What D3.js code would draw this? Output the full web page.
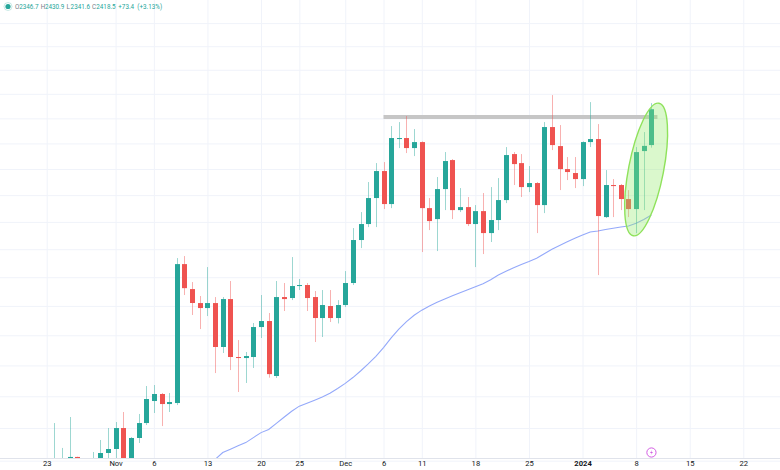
<!DOCTYPE html>
<html><head><meta charset="utf-8">
<script src="https://cdn.jsdelivr.net/npm/d3@7"></script>
<style>
html,body{margin:0;padding:0;background:#fff;overflow:hidden;}
svg{display:block;font-family:Roboto,"Liberation Sans",Arial,sans-serif;}
</style></head><body>
<svg id="chart" width="780" height="470"></svg>
<script>
// ---------- DATA ----------
const dates = [
"2023-10-23","2023-10-24","2023-10-25","2023-10-26","2023-10-27","2023-10-28","2023-10-29","2023-10-30","2023-10-31",
"2023-11-01","2023-11-02","2023-11-03","2023-11-04","2023-11-05","2023-11-06","2023-11-07","2023-11-08","2023-11-09","2023-11-10",
"2023-11-11","2023-11-12","2023-11-13","2023-11-14","2023-11-15","2023-11-16","2023-11-17","2023-11-18","2023-11-19","2023-11-20",
"2023-11-21","2023-11-22","2023-11-23","2023-11-24","2023-11-25","2023-11-26","2023-11-27","2023-11-28","2023-11-29","2023-11-30",
"2023-12-01","2023-12-02","2023-12-03","2023-12-04","2023-12-05","2023-12-06","2023-12-07","2023-12-08","2023-12-09","2023-12-10",
"2023-12-11","2023-12-12","2023-12-13","2023-12-14","2023-12-15","2023-12-16","2023-12-17","2023-12-18","2023-12-19","2023-12-20",
"2023-12-21","2023-12-22","2023-12-23","2023-12-24","2023-12-25","2023-12-26","2023-12-27","2023-12-28","2023-12-29","2023-12-30",
"2023-12-31","2024-01-01","2024-01-02","2024-01-03","2024-01-04","2024-01-05","2024-01-06","2024-01-07","2024-01-08","2024-01-09",
"2024-01-10"];
const open = [
1663,1785,1787,1797,1805.6,1780,1776,1797,1811.6,
1817.7,1850.0,1797,1834.6,1857.8,1892.5,1903.7,1887.7,1889.3,2123.3,
2079.2,2054.9,2046.3,2054.9,1980.4,2061.8,1963.8,1962.1,1963.8,2013.9,
2024.1,1932.7,2065.3,2063.6,2084.5,2086.3,2065.3,2029.2,2049.8,2029.2,
2051.5,2089.8,2166.7,2196.0,2244.5,2296.0,2233.2,2358.6,2360.6,2340.8,
2352.6,2225.6,2205.2,2261.5,2317.3,2221.9,2227.5,2196.0,2220.0,2179.4,
2203.4,2240.7,2329.0,2311.4,2265.3,2273.0,2231.3,2382.5,2344.7,2299.8,
2292.2,2280.6,2352.6,2358.6,2208.9,2269.2,2269.2,2242.6,2223.8,2334.9,
2346.7];
const high = [
1795,1857.8,1819.3,1867.2,1806,1798,1813.1,1831.5,1850,
1859.4,1875.1,1836,1872.0,1916.5,1918.1,1905.3,1905.3,2134.1,2137.7,
2091.5,2067.1,2118.0,2065.3,2065.3,2093.3,1992.0,1972.1,2020.7,2068.8,
2037.8,2093.3,2089.8,2135.9,2096.8,2089.8,2075.8,2077.5,2077.5,2060,
2110.9,2188.6,2218.2,2274.9,2311.5,2313.4,2384.5,2392.5,2404.6,2378.5,
2354.0,2244.5,2284.5,2333.0,2319.2,2263.4,2246.4,2231.3,2254.0,2265.3,
2282.5,2342.8,2333.0,2329.0,2305.7,2274.9,2392.5,2447.4,2386.5,2323.2,
2323.2,2354.0,2433.0,2388.5,2297.9,2280.6,2271.1,2259.6,2342.8,2372.5,
2430.9];
const low = [
1662,1766,1770,1776,1764,1772,1773,1790,1792,
1800,1780,1780,1826.9,1854.7,1873.5,1853.1,1875.1,1886.1,2068.8,
2034.4,2010.5,2032.6,1937.5,1970.4,1942.4,1906.9,1921.4,1945.7,1995.4,
1930,1929.5,2041.2,2060.1,2077.5,2041.2,1988.7,1997.1,2022.4,2020,
2048,2086.3,2152.1,2190.4,2190.4,2223.8,2225.6,2340.8,2331.0,2325.1,
2144.9,2184.9,2146.7,2221.9,2205.2,2218.2,2192.3,2118.0,2141.3,2163.1,
2184.9,2235.0,2269.2,2246.4,2255.8,2179.4,2216.3,2336.9,2259.6,2278.7,
2263.4,2267.2,2342.8,2103.8,2207.1,2208.9,2221.9,2208.9,2179.4,2221.9,
2341.6];
const close = [
1785,1787,1797,1805.6,1780,1776,1797,1811.6,1817.7,
1850.0,1797,1834.6,1857.8,1895.7,1903.7,1887.7,1890.9,2123.3,2080.8,
2055.0,2046.3,2054.9,1980.4,2061.8,1963.8,1962.1,1965.4,2013.9,2024.1,
1935.8,2065.3,2061.8,2084.5,2086.3,2063.6,2029.2,2051.5,2029.2,2051.5,
2089.8,2166.7,2196.0,2244.5,2296.0,2233.2,2360.6,2360.6,2340.8,2352.6,
2225.6,2201.5,2261.5,2315.4,2221.9,2227.5,2196.0,2220.0,2179.4,2203.4,
2240.7,2327.1,2309.5,2265.3,2273.0,2231.3,2382.5,2346.7,2299.8,2294.1,
2280.6,2352.6,2358.6,2210.8,2269.2,2267.2,2242.6,2223.8,2332.9,2345.1,
2418.5];
// moving average (aligned with dates, null where not drawn)
const ma = [
null,null,null,null,null,null,null,null,null,
null,null,null,null,null,null,null,null,null,null,
null,null,1793.4,1801.8,1812.3,1817.4,1822.6,1827.5,1835.2,1842.9,
1847.8,1857.2,1866.9,1876.3,1884.4,1889.0,1893.9,1898.9,1905.0,1912.5,
1920.7,1930.2,1940.9,1952.6,1965.0,1979.4,1995.5,2010.2,2023.1,2033.9,
2042.7,2050.0,2056.1,2062.0,2067.4,2072.6,2078.0,2083.4,2088.7,2095.5,
2103.9,2110.6,2116.6,2122.6,2128.0,2133.8,2142.0,2150.1,2156.7,2163.4,
2169.8,2175.7,2181.3,2183.3,2185.9,2188.3,2190.6,2192.4,2197.4,2204.6,
2212.8];
const xTickDates  = ["2023-10-23","2023-11-01","2023-11-06","2023-11-13","2023-11-20","2023-11-25","2023-12-01","2023-12-06","2023-12-11","2023-12-18","2023-12-25","2024-01-01","2024-01-08","2024-01-15","2024-01-22","2024-01-29"];
const xTickLabels = ["23","Nov","6","13","20","25","Dec","6","11","18","25","2024","8","15","22","29"];
const gridPrices = [1800,1850,1900,1950,2000,2050,2100,2150,2200,2250,2300,2350,2400,2450,2500,2550,2600];
const yDomain = [1804, 2651];           // visible price range (log scale)
const xDomain = ["2023-10-23","2024-01-22"];
const resistancePrice = 2402.5;
const resistanceFrom = "2023-12-06";
const legendFields = [["O","2346.7"],["H","2430.9"],["L","2341.6"],["C","2418.5"]];
const legendChange = ["+73.4","(+3.13%)"];

// ---------- DRAW ----------
const W = 780, H = 470, paneBottom = 458;
const UP = "#26a69a", DOWN = "#ef5350";
const parse = d3.utcParse("%Y-%m-%d");
const svg = d3.select("#chart");
const x = d3.scaleUtc().domain(xDomain.map(parse)).range([46.7, 743.3]);
const y = d3.scaleLog().domain(yDomain).range([paneBottom, 0]);

svg.append("defs").append("clipPath").attr("id","pane")
  .append("rect").attr("x",0).attr("y",0).attr("width",W).attr("height",paneBottom);

// grid
const gy = svg.append("g").attr("class","ygrid")
  .call(d3.axisRight(y).tickValues(gridPrices).tickSize(W).tickFormat(""));
gy.select(".domain").remove();
gy.selectAll("line").attr("stroke","#f0f3fa").attr("stroke-width",1);

const gx = svg.append("g").attr("class","xgrid")
  .call(d3.axisBottom(x).tickValues(xTickDates.map(parse)).tickSize(paneBottom).tickFormat(""));
gx.select(".domain").remove();
gx.selectAll("line").attr("stroke","#f0f3fa").attr("stroke-width",1);

// axis separator + labels
svg.append("line").attr("x1",0).attr("x2",W).attr("y1",paneBottom+0.5).attr("y2",paneBottom+0.5)
  .attr("stroke","#e0e3eb");
const ax = svg.append("g").attr("transform",`translate(0,${paneBottom})`)
  .call(d3.axisBottom(x).tickValues(xTickDates.map(parse)).tickSize(0).tickPadding(3)
  .tickFormat((d,i)=>xTickLabels[i]));
ax.select(".domain").remove();
ax.selectAll("text").attr("fill","#131722").attr("font-size","7.6px")
  .attr("font-family","Roboto,'Liberation Sans',Arial,sans-serif")
  .attr("font-weight",(d,i)=>xTickLabels[i]==="2024"?"bold":"normal");

const pane = svg.append("g").attr("clip-path","url(#pane)");

// resistance line
pane.append("line")
  .attr("x1", x(parse(resistanceFrom))).attr("x2", x(parse(dates[dates.length-1])) + 6)
  .attr("y1", y(resistancePrice)).attr("y2", y(resistancePrice))
  .attr("stroke","#c6c6c6").attr("stroke-width",4);

// moving average
const maLine = d3.line().defined((d,i)=>ma[i]!=null)
  .x((d,i)=>x(parse(dates[i]))).y((d,i)=>y(ma[i]));
pane.append("path").datum(dates).attr("d",maLine)
  .attr("fill","none").attr("stroke","#94a9fa").attr("stroke-width",1.1);

// candles
const bw = 5;
const candles = pane.append("g").selectAll("g").data(dates).join("g");
candles.append("line")
  .attr("x1",(d,i)=>Math.round(x(parse(d)))+0.5).attr("x2",(d,i)=>Math.round(x(parse(d)))+0.5)
  .attr("y1",(d,i)=>y(high[i])).attr("y2",(d,i)=>y(low[i]))
  .attr("stroke",(d,i)=>close[i]>=open[i]?UP:DOWN).attr("stroke-opacity",0.45).attr("stroke-width",1);
candles.append("rect")
  .attr("x",(d,i)=>Math.round(x(parse(d)))+0.5-bw/2)
  .attr("width",bw)
  .attr("y",(d,i)=>y(Math.max(open[i],close[i])))
  .attr("height",(d,i)=>Math.max(1, y(Math.min(open[i],close[i]))-y(Math.max(open[i],close[i]))))
  .attr("fill",(d,i)=>close[i]>=open[i]?UP:DOWN);

// highlight ellipse around last candles
const lastI = dates.length-1;
const ecx = (x(parse(dates[lastI-1])) + x(parse(dates[lastI])))/2 - 1.5;
const ecy = y(2299);
pane.append("ellipse").attr("cx",0).attr("cy",0).attr("rx",17.5).attr("ry",67.5)
  .attr("transform",`translate(${ecx},${ecy}) rotate(11)`)
  .attr("fill","rgba(150,235,110,0.35)").attr("stroke","#8fe25b").attr("stroke-width",1.4);

// event icon
const ix = x(parse(dates[lastI])), iy = 452.5;
svg.append("circle").attr("cx",ix).attr("cy",iy).attr("r",4.6)
  .attr("fill","#fff").attr("stroke","#d35be3").attr("stroke-width",1);
svg.append("path").attr("d",`M${ix+0.8},${iy-2.8} L${ix-1.4},${iy+0.4} L${ix+0.2},${iy+0.4} L${ix-0.8},${iy+2.8} L${ix+1.5},${iy-0.6} L${ix-0.1},${iy-0.6} Z`)
  .attr("fill","#d35be3");

// legend
svg.append("circle").attr("cx",8).attr("cy",6.5).attr("r",2.6).attr("fill",UP);
svg.append("circle").attr("cx",8).attr("cy",6.5).attr("r",4).attr("fill","none").attr("stroke",UP).attr("stroke-opacity",0.25);
const lt = svg.append("text").attr("y",9).attr("font-size","6.3px")
  .attr("font-family","Roboto,'Liberation Sans',Arial,sans-serif");
const groupX = [15, 40.7, 66.4, 92.1];
legendFields.forEach(([k,v],i)=>{
  lt.append("tspan").attr("x",groupX[i]).attr("fill","#787b86").text(k);
  lt.append("tspan").attr("x",groupX[i]+4.2).attr("fill",UP).text(v);
});
lt.append("tspan").attr("x",118.3).attr("fill",UP).text(legendChange[0]);
lt.append("tspan").attr("x",137.3).attr("fill",UP).text(legendChange[1]);
</script>
</body></html>
